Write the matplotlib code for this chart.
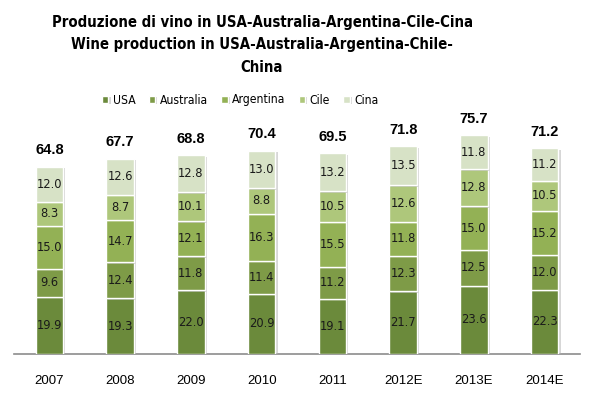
import numpy as np
import matplotlib
matplotlib.use("Agg")
import matplotlib.pyplot as plt
import matplotlib.patheffects as pe
from matplotlib import font_manager as fm

# ── Data ──────────────────────────────────────────────────────────────
years = ["2007", "2008", "2009", "2010", "2011", "2012E", "2013E", "2014E"]
usa = [19.9, 19.3, 22.0, 20.9, 19.1, 21.7, 23.6, 22.3]
australia = [9.6, 12.4, 11.8, 11.4, 11.2, 12.3, 12.5, 12.0]
argentina = [15.0, 14.7, 12.1, 16.3, 15.5, 11.8, 15.0, 15.2]
cile = [8.3, 8.7, 10.1, 8.8, 10.5, 12.6, 12.8, 10.5]
cina = [12.0, 12.6, 12.8, 13.0, 13.2, 13.5, 11.8, 11.2]
totals = [64.8, 67.7, 68.8, 70.4, 69.5, 71.8, 75.7, 71.2]

series_names = ["USA", "Australia", "Argentina", "Cile", "Cina"]
series = [usa, australia, argentina, cile, cina]
colors = ["#6b8a3b", "#7e9b47", "#93b155", "#aec77b", "#d7e2c6"]

# condensed face, if one is installed
narrow = [f.fname for f in fm.fontManager.ttflist
          if "condensed" in str(f.stretch).lower() or "narrow" in f.name.lower()
          or "Condensed" in f.fname or "Narrow" in f.fname]
bold_narrow = [p for p in narrow if "Bold" in p and "Oblique" not in p and "Italic" not in p]
reg_narrow = [p for p in narrow if "Bold" not in p and "Oblique" not in p and "Italic" not in p
              and "Light" not in p]


def cond_prop(size, bold):
    lst = bold_narrow if bold else reg_narrow
    if lst:
        return fm.FontProperties(fname=sorted(lst)[0], size=size)
    return fm.FontProperties(family="DejaVu Sans", size=size * 0.8,
                             weight="bold" if bold else "normal")


# ── Figure ────────────────────────────────────────────────────────────
W, H = 594, 394
fig = plt.figure(figsize=(W / 100, H / 100), dpi=100)
ax = fig.add_axes([14 / W, (H - 354) / H, 566 / W, 231 / H])

x = np.arange(len(years))
bottom = np.zeros(len(years))
shadow = [pe.SimplePatchShadow(offset=(1.5, -1), shadow_rgbFace="#b0b0b0", alpha=0.5),
          pe.Normal()]
handles = []
for name, vals, col in zip(series_names, series, colors):
    vals = np.array(vals)
    bars = ax.bar(x, vals, width=0.39, bottom=bottom, color=col,
                  edgecolor="white", linewidth=1.0, label=name, zorder=3)
    for b in bars:
        b.set_path_effects(shadow)
    for xi, v, b0 in zip(x, vals, bottom):
        ax.text(xi, b0 + v / 2, f"{v:.1f}", ha="center", va="center",
                fontsize=8.3, color="#1a1a1a", family="DejaVu Sans", zorder=4)
    bottom += vals
    handles.append(bars)

for xi, t, top in zip(x, totals, bottom):
    ax.text(xi, top + 3.4, f"{t:.1f}", ha="center", va="bottom",
            fontsize=10.5, fontweight="bold", color="black",
            family="Liberation Sans", clip_on=False)

ax.set_xlim(-0.5, len(years) - 0.5)
ax.set_ylim(0, 80)
ax.set_yticks([])
ax.set_xticks(x)
ax.set_xticklabels(years, fontsize=9.5, family="Liberation Sans")
ax.tick_params(axis="x", length=0, pad=15)
for s in ["top", "right", "left"]:
    ax.spines[s].set_visible(False)
ax.spines["bottom"].set_color("#8c8c8c")
ax.spines["bottom"].set_linewidth(1.2)

tp = cond_prop(10.7, True)
tx = 262 / W
fig.text(tx, 1 - 22 / H,
         "Produzione di vino in USA-Australia-Argentina-Cile-Cina",
         ha="center", va="center", fontproperties=tp)
fig.text(tx, 1 - 45 / H,
         "Wine production in USA-Australia-Argentina-Chile-",
         ha="center", va="center", fontproperties=tp)
fig.text(tx, 1 - 68 / H, "China", ha="center", va="center", fontproperties=tp)

leg = fig.legend(handles=handles, labels=series_names, loc="center",
                 bbox_to_anchor=(240 / W, 1 - 100 / H), ncol=5, frameon=False,
                 handlelength=0.55, handleheight=0.55, handletextpad=0.35,
                 columnspacing=1.1, prop=cond_prop(8.7, False))

fig.savefig("out.png", dpi=100)
